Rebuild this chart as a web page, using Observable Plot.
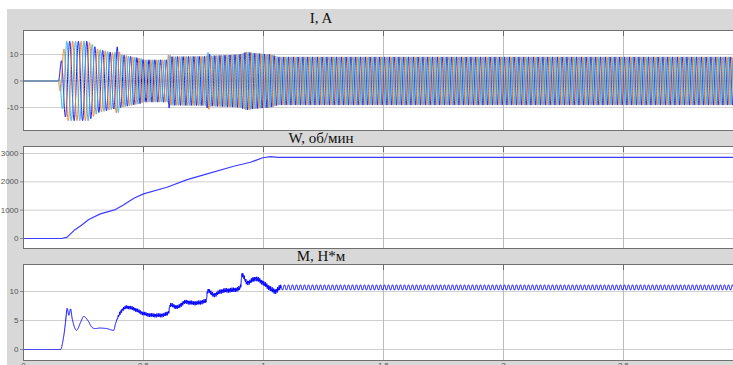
<!DOCTYPE html>
<html><head><meta charset="utf-8">
<script src="https://cdn.jsdelivr.net/npm/d3@7"></script>
<script src="https://cdn.jsdelivr.net/npm/@observablehq/plot@0.6"></script>
<style>
body{margin:0;background:#fff;}
#wrap{position:relative;width:733px;height:365px;overflow:hidden;background:#fff;}
#bg{position:absolute;left:7px;top:9px;width:726px;height:356px;background:#d8d8d8;}
.ttl{position:absolute;left:23px;width:596px;text-align:center;font-family:"Liberation Serif","Times New Roman",serif;font-size:15px;line-height:15px;color:#111;white-space:nowrap;}
.pnl{position:absolute;left:0;}
</style></head><body>
<div id="wrap"><div id="bg"></div></div>
<script>
// ---------- data ----------
const xTicks = [0, 0.5, 1, 1.5, 2, 2.5];
const xTickLabels = ["0", "0.5", "1", "1.5", "2", "2.5"];
const titles = ["I, A", "W, об/мин", "M, Н*м"];
const iTicks = [-10, 0, 10];
const wTicks = [0, 1000, 2000, 3000];
const mTicks = [0, 5, 10];

// speed, rpm
const speedT = [0, 0.16, 0.182, 0.21, 0.24, 0.272, 0.32, 0.383, 0.418, 0.46, 0.5, 0.598, 0.682, 0.765, 0.876, 0.946, 0.997, 1.03, 1.06, 2.96];
const speedV = [0, 0, 46, 280, 460, 670, 870, 1020, 1190, 1420, 1575, 1810, 2080, 2280, 2550, 2690, 2850, 2890, 2860, 2860];

// torque, N*m (mean curve)
const torqueT = [0, 0.154, 0.168, 0.175, 0.182, 0.189, 0.196, 0.203, 0.221, 0.238, 0.251, 0.268, 0.286, 0.32, 0.348, 0.376, 0.383, 0.404, 0.432, 0.46, 0.5, 0.543, 0.598, 0.605, 0.612, 0.64, 0.675, 0.71, 0.751, 0.762, 0.768, 0.793, 0.821, 0.876, 0.897, 0.905, 0.911, 0.932, 0.967, 0.994, 1.022, 1.05, 1.071, 2.96];
const torqueV = [0, 0, 2.4, 4.7, 7.1, 5.9, 7.0, 5.3, 3.3, 4.7, 5.7, 5.0, 3.8, 3.7, 3.6, 3.3, 4.4, 6.4, 7.3, 7.0, 6.2, 5.9, 6.2, 6.5, 7.7, 7.3, 8.2, 8.0, 8.3, 8.6, 10.2, 9.4, 10, 10.3, 10.5, 11, 12.9, 11.5, 12.2, 11.6, 10.7, 10.05, 10.7, 10.7];
// torque ripple amplitude
const rippleT = [0, 0.38, 0.40, 1.0, 1.07, 2.96];
const rippleA = [0, 0, 0.3, 0.4, 0.45, 0.45];
const rippleHz = 60;

// phase current amplitude envelope, A
const curT = [0, 0.146, 0.16, 0.18, 0.27, 0.31, 0.38, 0.39, 0.405, 0.49, 0.5, 0.6, 0.605, 0.615, 0.76, 0.77, 0.78, 0.9, 0.93, 0.96, 1.03, 1.06, 2.96];
const curA = [0, 0, 10, 15, 15, 12, 10.5, 13, 10, 8.5, 8, 8, 10.5, 9.2, 9.3, 11, 9.5, 10, 11, 10.5, 10, 9.1, 9.1];
// supply frequency, Hz
const freqT = [0.146, 0.3, 0.5, 0.8, 1.03, 2.96];
const freqF = [26, 30, 40, 47, 50, 50];
const phaseColors = ["#1414f0", "#f5802c", "#36b2e8"];

// ---------- build series ----------
const interp = (T, V) => d3.scaleLinear().domain(T).range(V).clamp(true);
// monotone cubic (Fritsch–Carlson) through the read points
function smooth(T, V) {
  const n = T.length, d = [], m = new Array(n).fill(0);
  for (let i = 0; i < n - 1; i++) d.push((V[i + 1] - V[i]) / (T[i + 1] - T[i]));
  m[0] = d[0]; m[n - 1] = d[n - 2];
  for (let i = 1; i < n - 1; i++) m[i] = d[i - 1] * d[i] <= 0 ? 0 : (d[i - 1] + d[i]) / 2;
  return t => {
    if (t <= T[0]) return V[0];
    if (t >= T[n - 1]) return V[n - 1];
    let i = d3.bisectRight(T, t) - 1;
    const h = T[i + 1] - T[i], s = (t - T[i]) / h;
    const h00 = 2 * s ** 3 - 3 * s ** 2 + 1, h10 = s ** 3 - 2 * s ** 2 + s, h01 = -2 * s ** 3 + 3 * s ** 2, h11 = s ** 3 - s ** 2;
    return h00 * V[i] + h10 * h * m[i] + h01 * V[i + 1] + h11 * h * m[i + 1];
  };
}
const tEnd = 2.96, dt = 0.0004;
const ampOf = interp(curT, curA), fOf = interp(freqT, freqF);
const current = [];
let phi = 0;
for (let t = 0; t <= tEnd; t += dt) {
  const a = ampOf(t);
  if (t > 0.146) phi += 2 * Math.PI * fOf(t) * dt;
  for (let k = 0; k < 3; k++) current.push({t, k, v: a * Math.sin(phi - k * 2 * Math.PI / 3)});
}
const speed = speedT.map((t, i) => ({t, v: speedV[i]}));
const mOf = smooth(torqueT, torqueV), rOf = interp(rippleT, rippleA);
const torque = [];
for (let t = 0; t <= tEnd; t += dt) {
  const r = rOf(t);
  const ripple = t < 1.07
    ? r * (0.6 * Math.sin(2 * Math.PI * 310 * t) + 0.5 * Math.sin(2 * Math.PI * 173 * t))
    : r * Math.sin(2 * Math.PI * rippleHz * t);
  torque.push({t, v: mOf(t) + ripple});
}

// ---------- panels ----------
const wrap = document.getElementById("wrap");
const xDomain = [0, 710 / 240];
function panel({top, height, yDomain, yTicks, marks, labels}) {
  const mb = labels ? 10 : 0;
  const pxPerUnit = height / (yDomain[1] - yDomain[0]);
  const tk = 6 / pxPerUnit;
  const plot = Plot.plot({
    width: 733, height: height + mb,
    marginLeft: 23, marginRight: 0, marginTop: 0, marginBottom: mb,
    x: {domain: xDomain, axis: null, label: null},
    y: {domain: yDomain, axis: null, label: null},
    style: {background: "transparent", overflow: "visible", fontFamily: "'Liberation Sans', Arial, sans-serif", fontSize: "8px"},
    marks: [
      Plot.frame({fill: "white", stroke: null}),
      Plot.gridY(yTicks, {stroke: "#cfcfcf", strokeOpacity: 1}),
      Plot.gridX(xTicks, {stroke: "#bcbcbc", strokeOpacity: 1}),
      ...marks,
      Plot.ruleX(xTicks, {y1: yDomain[1], y2: yDomain[1] - tk, stroke: "#6a6a6a"}),
      Plot.axisY(yTicks, {anchor: "left", label: null, tickSize: 3, tickPadding: 2, color: "#555", stroke: "#888", tickFormat: d => String(d)}),
      labels ? Plot.axisX(xTicks, {anchor: "bottom", label: null, tickSize: 0, tickPadding: 2, color: "#555", tickFormat: d => xTickLabels[xTicks.indexOf(d)]}) : null,
      Plot.ruleX([0], {stroke: "#707070"}),
      Plot.ruleY([yDomain[1]], {stroke: "#707070"}),
      Plot.ruleY([yDomain[0]], {stroke: "#707070"})
    ]
  });
  plot.classList.add("pnl");
  plot.style.top = top + "px";
  wrap.appendChild(plot);
}

panel({
  top: 30, height: 100, yDomain: [-18.7, 19.06], yTicks: iTicks,
  marks: [0, 1, 2].map(k => Plot.line(current.filter(d => d.k === k), {x: "t", y: "v", stroke: phaseColors[k], strokeWidth: 1}))
});
panel({
  top: 146, height: 102, yDomain: [-353, 3247], yTicks: wTicks,
  marks: [Plot.line(speed, {x: "t", y: "v", stroke: "#3c3cff", strokeWidth: 1.2})]
});
panel({
  top: 264, height: 96, yDomain: [-1.897, 14.655], yTicks: mTicks, labels: true,
  marks: [Plot.line(torque, {x: "t", y: "v", stroke: "#0000ff", strokeWidth: 1})]
});

const ttlTops = [11, 131, 249];
titles.forEach((s, i) => {
  const d = document.createElement("div");
  d.className = "ttl";
  d.style.top = ttlTops[i] + "px";
  d.textContent = s;
  wrap.appendChild(d);
});
</script>
</body></html>
